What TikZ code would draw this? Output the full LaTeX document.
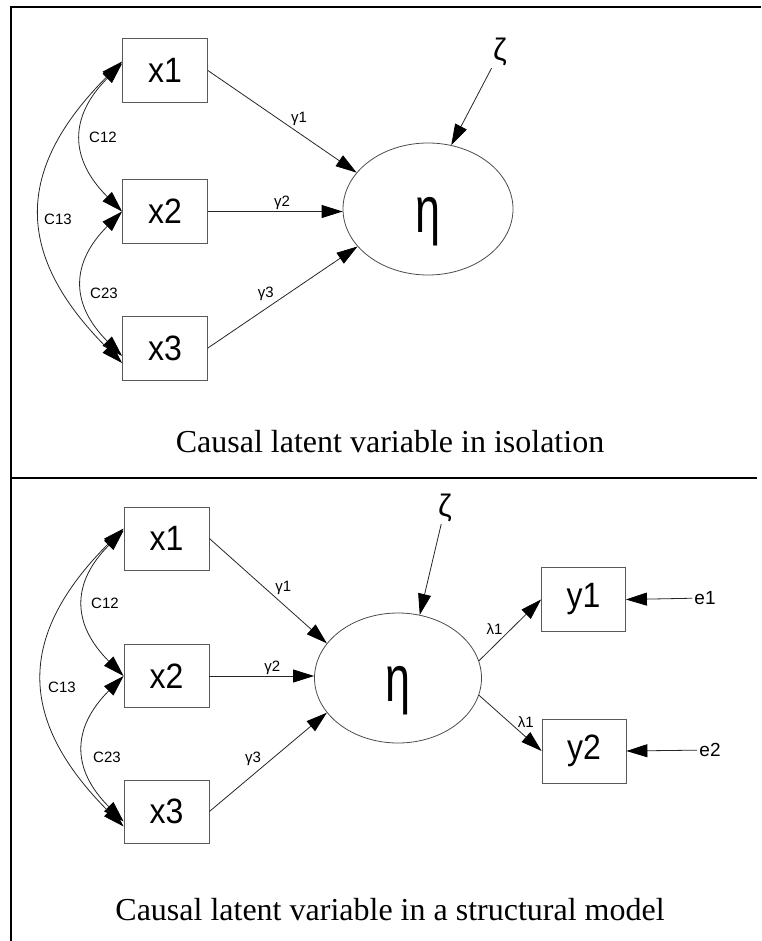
\documentclass[tikz,border=0pt]{standalone}
\usepackage{fontspec}
\setmainfont{Liberation Serif}
\newfontfamily\semfont{Liberation Sans}
\usepackage{graphicx}
\usetikzlibrary{
  arrows.meta,
  shapes.geometric,
  calc
}
\newcommand{\tallgr}[1]{\rule{0pt}{60pt}\scalebox{1}[1.45]{#1}}
\newcommand{\talltx}[1]{\scalebox{1}[1.1]{#1}}
\tikzset{
  % Observed and latent variables
  obsbox/.style   = {draw=black!65, line width=0.8pt, minimum width=85pt,
                     minimum height=64pt, inner sep=0pt,
                     font=\semfont\fontsize{32}{32}\selectfont},
  latent/.style   = {ellipse, draw=black!70, line width=0.8pt, inner sep=0pt,
                     font=\semfont\fontsize{45}{45}\selectfont},
  % Connectors
  pathline/.style = {draw=black!85, line width=0.8pt,
                     -{Triangle[length=21pt,width=13pt,color=black]}},
  covline/.style  = {draw=black!85, line width=0.8pt, looseness=1.3,
                     {Triangle[length=21pt,width=13pt,color=black]}-{Triangle[length=21pt,width=13pt,color=black]}},
  % Labels
  lab/.style      = {font=\semfont\fontsize{15}{15}\selectfont, inner sep=1pt},
  errlab/.style   = {font=\semfont\fontsize{19}{19}\selectfont, inner sep=2pt},
  distlab/.style  = {font=\semfont\fontsize{31}{31}\selectfont, inner sep=2pt},
  caption/.style  = {font=\fontsize{32}{32}\selectfont, anchor=base},
  frameline/.style= {line width=2pt, black},
}

\begin{document}
\begin{tikzpicture}[x=1pt, y=1pt]
  \useasboundingbox (0,0) rectangle (761,-941);
  % Frame
  \draw[frameline] (11,-941) -- (11,-7) -- (761,-7);
  \draw[frameline] (11,-478) -- (757,-478);

  % Top panel: latent variable in isolation
  \node[obsbox] (x1A) at (165,-70.5) {\talltx{x1}};
  \node[obsbox] (x2A) at (165,-211.5) {\talltx{x2}};
  \node[obsbox] (x3A) at (165,-348) {\talltx{x3}};
  \node[latent, minimum width=170pt, minimum height=132pt] (etaA) at (428,-209) {\tallgr{η}};
  \node[distlab] (zetaA) at (500,-52) {ζ};
  \draw[pathline] (x1A.east) -- (etaA.153) node[lab, pos=0.55, above right] {γ1};
  \draw[pathline] (x2A.east) -- (x2A.east -| etaA.west) node[lab, pos=0.55, above] {γ2};
  \draw[pathline] (x3A.east) -- (etaA.208) node[lab, pos=0.45, above left] {γ3};
  \draw[pathline] (zetaA) -- (etaA.70);
  \draw[covline] ([yshift=7pt]x1A.west) to[out=225, in=135] (x2A.west);
  \draw[covline] (x2A.west) to[out=225, in=135] ([yshift=-8pt]x3A.west);
  \draw[covline] ([yshift=9pt]x1A.west) to[out=225, in=135] ([yshift=-15pt]x3A.west);
  \node[lab] (c12A) at (103,-137) {C12};
  \node[lab] (c23A) at (104,-293) {C23};
  \node[lab] (c13A) at (58,-219) {C13};
  \node[caption] (capA) at (390,-452) {Causal latent variable in isolation};

  % Bottom panel: latent variable in a structural model
  \node[obsbox, minimum height=63pt] (x1B) at (166.5,-538.5) {\talltx{x1}};
  \node[obsbox, minimum height=63pt] (x2B) at (166.5,-676) {\talltx{x2}};
  \node[obsbox, minimum height=63pt] (x3B) at (166.5,-811.5) {\talltx{x3}};
  \node[latent, minimum width=167pt, minimum height=130pt] (etaB) at (398,-678) {\tallgr{η}};
  \node[distlab] (zetaB) at (445,-508) {ζ};
  \node[obsbox, minimum width=84pt] (y1B) at (583.5,-599.5) {\talltx{y1}};
  \node[obsbox, minimum width=84pt] (y2B) at (584,-751) {\talltx{y2}};
  \node[errlab] (e1B) at (705,-598) {e1};
  \node[errlab] (e2B) at (710,-750) {e2};
  \draw[pathline] (x1B.east) -- (etaB.154) node[lab, pos=0.55, above right] {γ1};
  \draw[pathline] (x2B.east) -- (x2B.east -| etaB.west) node[lab, pos=0.6, above] {γ2};
  \draw[pathline] (x3B.east) -- (etaB.206) node[lab, pos=0.45, above left] {γ3};
  \draw[pathline] (zetaB) -- (etaB.71);
  \draw[pathline] (etaB.12) -- (y1B.west) node[lab, pos=0.4, above left] {λ1};
  \draw[pathline] (etaB.-12) -- (y2B.west) node[lab, pos=0.6, above right] {λ1};
  \draw[pathline] (e1B) -- (y1B.east);
  \draw[pathline] (e2B) -- (y2B.east);
  \draw[covline] ([yshift=8pt]x1B.west) to[out=225, in=135] (x2B.west);
  \draw[covline] (x2B.west) to[out=225, in=135] ([yshift=-10pt]x3B.west);
  \draw[covline] ([yshift=10pt]x1B.west) to[out=225, in=135] ([yshift=-15pt]x3B.west);
  \node[lab] (c12B) at (105,-603) {C12};
  \node[lab] (c23B) at (107,-757) {C23};
  \node[lab] (c13B) at (62,-687) {C13};
  \node[caption] (capB) at (390,-920) {Causal latent variable in a structural model};
\end{tikzpicture}
\end{document}
